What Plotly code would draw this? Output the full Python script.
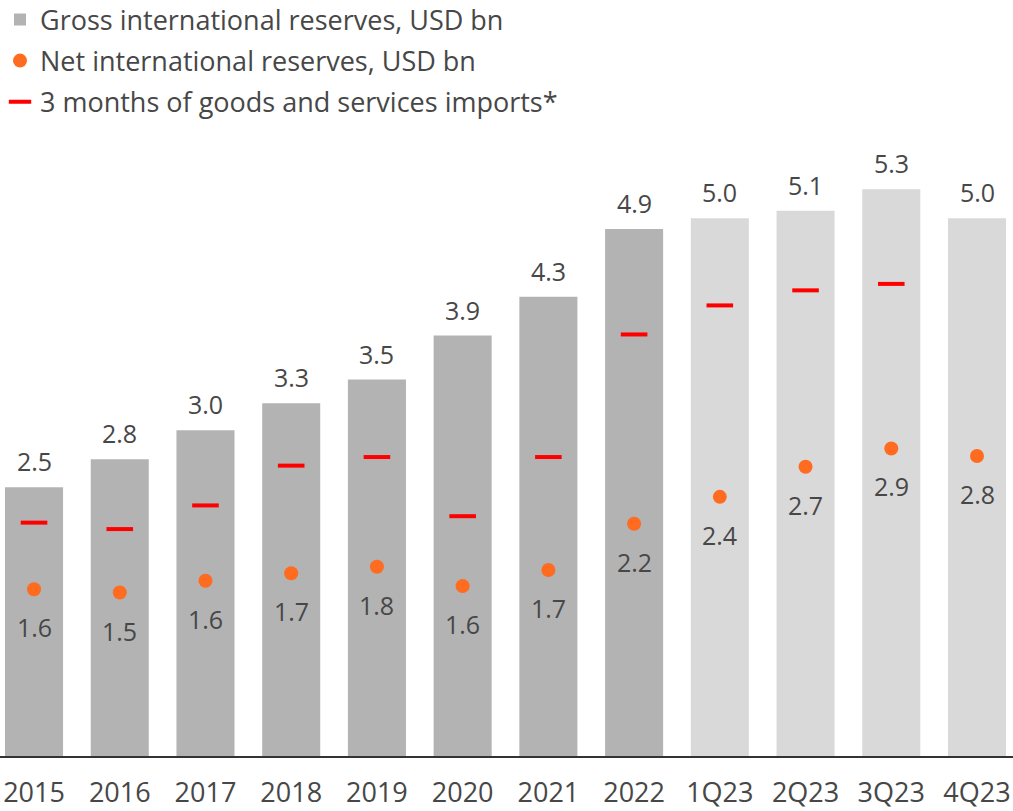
import plotly.graph_objects as go

categories = ["2015", "2016", "2017", "2018", "2019", "2020", "2021", "2022",
              "1Q23", "2Q23", "3Q23", "4Q23"]
gross = [2.5, 2.76, 3.03, 3.28, 3.5, 3.91, 4.27, 4.9, 5.0, 5.07, 5.27, 5.0]
gross_labels = ["2.5", "2.8", "3.0", "3.3", "3.5", "3.9", "4.3", "4.9", "5.0", "5.1", "5.3", "5.0"]
net = [1.55, 1.52, 1.63, 1.70, 1.76, 1.58, 1.73, 2.16, 2.41, 2.69, 2.86, 2.79]
net_labels = ["1.6", "1.5", "1.6", "1.7", "1.8", "1.6", "1.7", "2.2", "2.4", "2.7", "2.9", "2.8"]
imports = [2.17, 2.11, 2.33, 2.70, 2.78, 2.23, 2.78, 3.92, 4.19, 4.33, 4.39, None]

bar_colors = ["#b3b3b3"] * 8 + ["#d9d9d9"] * 4
TEXT = "#474747"
FONT = "Open Sans"

fig = go.Figure()
fig.add_trace(go.Bar(
    x=categories, y=gross, name="Gross international reserves, USD bn",
    marker=dict(color=bar_colors, line=dict(width=0)),
    legendgroup="g1", hoverinfo="skip",
))
fig.add_trace(go.Scatter(
    x=categories, y=net, mode="markers", name="Net international reserves, USD bn",
    marker=dict(color="#ff6b1f", size=14, symbol="circle"),
    legendgroup="g2", hoverinfo="skip",
))
fig.add_trace(go.Scatter(
    x=categories, y=imports, mode="markers", name="3 months of goods and services imports*",
    marker=dict(color="#ff0000", size=19, symbol="line-ew", line=dict(color="#ff0000", width=4)),
    legendgroup="g3", hoverinfo="skip",
))

for i, (v, t) in enumerate(zip(gross, gross_labels)):
    fig.add_annotation(x=i, y=v, xref="x", yref="y", text=t, showarrow=False,
                       yanchor="middle", yshift=26,
                       font=dict(size=25, color=TEXT, family=FONT))
for i, (v, t) in enumerate(zip(net, net_labels)):
    fig.add_annotation(x=i, y=v, xref="x", yref="y", text=t, showarrow=False,
                       yanchor="middle", yshift=-38,
                       font=dict(size=25, color=TEXT, family=FONT))

fig.update_layout(
    width=1013, height=811,
    margin=dict(l=0, r=0, t=0, b=55, autoexpand=False),
    plot_bgcolor="white", paper_bgcolor="white",
    bargap=0.323,
    font=dict(family=FONT, size=25, color=TEXT),
    showlegend=True,
    legend=dict(x=0, y=1.006, xanchor="left", yanchor="top", orientation="v",
                traceorder="grouped", tracegroupgap=3,
                font=dict(size=27, color=TEXT, family=FONT),
                bgcolor="rgba(0,0,0,0)", borderwidth=0, itemclick=False),
    xaxis=dict(type="category", range=[-0.397, 11.42], showgrid=False, showline=True,
               automargin=False,
               linecolor="#333333", linewidth=2, ticks="", ticklabelstandoff=12,
               tickfont=dict(size=27, color=TEXT, family=FONT), fixedrange=True),
    yaxis=dict(range=[0, 7.03], visible=False, showgrid=False, zeroline=False,
               automargin=False, fixedrange=True),
)

fig.write_html("out.html", config={"displayModeBar": False},
               post_script="document.body.style.margin='0';document.body.style.overflow='hidden';")
